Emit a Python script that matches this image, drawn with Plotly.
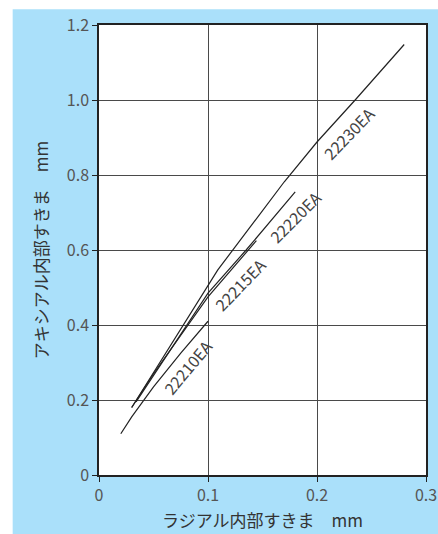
import plotly.graph_objects as go

# Data
x_22210 = [0.02, 0.03, 0.05, 0.075, 0.1]
y_22210 = [0.11, 0.155, 0.235, 0.325, 0.41]

x_22215 = [0.03, 0.05, 0.1, 0.1444]
y_22215 = [0.18, 0.27, 0.475, 0.625]

x_22220 = [0.034, 0.1, 0.135, 0.18]
y_22220 = [0.195, 0.485, 0.6, 0.755]

x_22230 = [0.03, 0.109, 0.17, 0.2, 0.235, 0.28]
y_22230 = [0.18, 0.547, 0.782, 0.888, 1.0, 1.148]

series_names = ["22210EA", "22215EA", "22220EA", "22230EA"]
label_x = [0.0814, 0.1298, 0.1795, 0.2293]
label_y = [0.287, 0.509, 0.689, 0.911]
label_angle = [-50, -46, -45, -46]

x_ticks = [0, 0.1, 0.2, 0.3]
x_ticktext = ["0", "0.1", "0.2", "0.3"]
y_ticks = [0, 0.2, 0.4, 0.6, 0.8, 1.0, 1.2]
y_ticktext = ["0", "0.2", "0.4", "0.6", "0.8", "1.0", "1.2"]

x_title = "ラジアル内部すきま　mm"
y_title = "アキシアル内部すきま　mm"

FONT = "Noto Sans CJK JP, Noto Sans, sans-serif"
LINE = "#222222"

fig = go.Figure()
for xs, ys, name in zip([x_22210, x_22215, x_22220, x_22230],
                        [y_22210, y_22215, y_22220, y_22230], series_names):
    fig.add_trace(go.Scatter(x=xs, y=ys, mode="lines", name=name,
                             line=dict(color=LINE, width=1.2), showlegend=False))

for lx, ly, la, name in zip(label_x, label_y, label_angle, series_names):
    fig.add_annotation(x=lx, y=ly, text=name, showarrow=False, textangle=la,
                       font=dict(family=FONT, size=16, color="#444444"))

fig.add_shape(type="rect", xref="paper", yref="paper",
              x0=-0.264, x1=1.2, y0=-0.3, y1=1.0348,
              fillcolor="#aae0fa", line=dict(width=0), layer="below")
fig.add_shape(type="rect", xref="paper", yref="paper",
              x0=0, x1=1, y0=0, y1=1,
              fillcolor="white", line=dict(width=0), layer="below")

fig.update_layout(
    width=438, height=534,
    margin=dict(l=99, r=12, t=25, b=59, autoexpand=False),
    paper_bgcolor="white", plot_bgcolor="white",
    font=dict(family=FONT, color="#444444"),
    xaxis=dict(range=[0, 0.3], tickvals=x_ticks, ticktext=x_ticktext,
               automargin=False,
               showgrid=True, gridcolor="#4a4a4a", gridwidth=1,
               showline=True, linecolor=LINE, linewidth=1.5, mirror=True,
               ticks="outside", ticklen=5, tickcolor=LINE,
               tickfont=dict(size=16, color="#555555"),
               zeroline=False,
               title=dict(text=x_title, font=dict(size=17, color="#333333"), standoff=10)),
    yaxis=dict(range=[0, 1.2], tickvals=y_ticks, ticktext=y_ticktext,
               automargin=False,
               showgrid=True, gridcolor="#4a4a4a", gridwidth=1,
               showline=True, linecolor=LINE, linewidth=1.5, mirror=True,
               ticks="outside", ticklen=5, tickcolor=LINE,
               tickfont=dict(size=16, color="#555555"),
               zeroline=False,
               title=dict(text=y_title, font=dict(size=17, color="#333333"), standoff=14)),
)

fig.write_html("out.html", config={"displayModeBar": False},
               post_script="document.body.style.margin='0';document.body.style.overflow='hidden';")
